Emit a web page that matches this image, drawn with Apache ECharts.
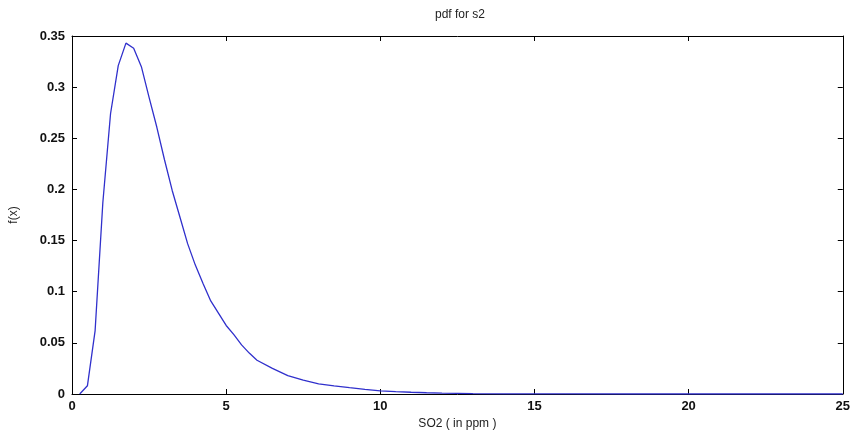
<!DOCTYPE html>
<html>
<head>
<meta charset="utf-8">
<script src="https://cdn.jsdelivr.net/npm/echarts@6/dist/echarts.min.js"></script>
<style>
html,body{margin:0;padding:0;background:#fff;}
#chart{width:853px;height:438px;}
</style>
</head>
<body>
<div id="chart"></div>
<script>
const titleText = 'pdf for s2';
const xName = 'SO2 ( in ppm )';
const yName = 'f(x)';
const xTicks = [0, 5, 10, 15, 20, 25];
const yTicks = [0, 0.05, 0.1, 0.15, 0.2, 0.25, 0.3, 0.35];
const xs = [0.25,0.5,0.75,1,1.25,1.5,1.75,2,2.25,2.5,2.75,3,3.25,3.5,3.75,4,4.25,4.5,4.75,5,5.25,5.5,5.75,6,6.5,7,7.5,8,8.5,9,9.5,10,10.5,11,11.5,12,13,14,15,16,18,20,22,25];
const ys = [0,0.008,0.062,0.187,0.274,0.321,0.343,0.338,0.320,0.290,0.261,0.229,0.199,0.173,0.147,0.126,0.108,0.091,0.079,0.067,0.058,0.048,0.040,0.033,0.025,0.018,0.0135,0.0100,0.0080,0.0062,0.0045,0.0030,0.0023,0.0017,0.0012,0.0008,0.0004,0.0002,0.0001,0.00005,0,0,0,0];

const chart = echarts.init(document.getElementById('chart'));
const lblFont = {color:'#111', fontSize:13, fontWeight:'bold', fontFamily:'Liberation Sans, Arial, sans-serif'};
const axLine = {show:true, onZero:false, lineStyle:{color:'#000', width:1}};
const tickIn = {show:true, inside:true, length:5, lineStyle:{color:'#000'}};
chart.setOption({
  backgroundColor:'#fff',
  animation:false,
  title:{text:titleText, left:455, top:4, textAlign:'center',
    textStyle:{fontSize:12, fontWeight:'normal', color:'#222', fontFamily:'Liberation Sans, Arial, sans-serif'}},
  grid:{left:70.5, right:9, top:36, bottom:44, containLabel:false},
  xAxis:[{
    type:'value', min:xTicks[0], max:xTicks[xTicks.length-1], interval:5,
    name:xName, nameLocation:'middle', nameGap:23,
    nameTextStyle:{fontSize:12, color:'#222', fontFamily:'Liberation Sans, Arial, sans-serif'},
    axisLine:axLine, axisTick:tickIn, splitLine:{show:false},
    axisLabel:Object.assign({margin:6}, lblFont)
  },{
    type:'value', position:'top', min:0, max:25, interval:5,
    axisLine:axLine, axisTick:tickIn, axisLabel:{show:false}, splitLine:{show:false}
  }],
  yAxis:[{
    type:'value', min:yTicks[0], max:yTicks[yTicks.length-1], interval:0.05,
    name:yName, nameLocation:'middle', nameGap:52, nameRotate:90,
    nameTextStyle:{fontSize:12, color:'#222', fontFamily:'Liberation Sans, Arial, sans-serif'},
    axisLine:axLine, axisTick:tickIn, splitLine:{show:false},
    axisLabel:Object.assign({margin:7, formatter:v=>String(+v.toFixed(2))}, lblFont)
  },{
    type:'value', position:'right', min:0, max:0.35, interval:0.05,
    axisLine:axLine, axisTick:tickIn, axisLabel:{show:false}, splitLine:{show:false}
  }],
  series:[{
    type:'line', xAxisIndex:0, yAxisIndex:0,
    data: xs.map((x,i)=>[x, ys[i]]),
    showSymbol:false, smooth:false,
    lineStyle:{color:'#3030cc', width:1.3},
    itemStyle:{color:'#3030cc'}
  }]
});
</script>
</body>
</html>
